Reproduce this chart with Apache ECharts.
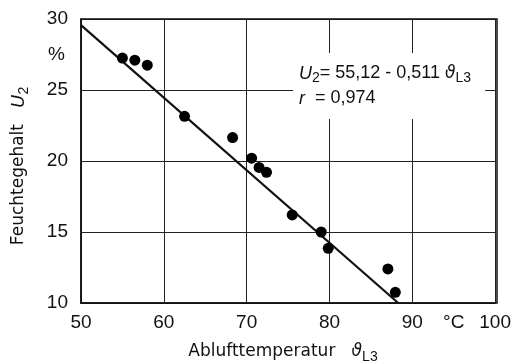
<!DOCTYPE html>
<html>
<head>
<meta charset="utf-8">
<script src="https://cdn.jsdelivr.net/npm/echarts@6/dist/echarts.min.js"></script>
<style>
  html, body { margin: 0; padding: 0; background: #fff; }
  #chart { width: 514px; height: 364px; }
</style>
</head>
<body>
<div id="chart"></div>
<script>
(function () {
    // Messpunkte (Ablufttemperatur in °C, Feuchtegehalt in %)
    var temps = [55.0, 56.5, 58.0, 62.5, 68.3, 70.6, 71.5, 72.4, 75.5, 79.0, 79.85, 87.05, 87.95];
    var moisture = [27.25, 27.1, 26.75, 23.15, 21.65, 20.2, 19.55, 19.2, 16.2, 15.0, 13.85, 12.4, 10.75];
    // Regressionsgerade U2 = 55,12 - 0,511 * t
    var fitA = 55.12;
    var fitB = -0.511;
    var fitRange = [50, 88.3];

    var font = 'Liberation Sans';
    var titleFont = 'DejaVu Sans';

    var pts = temps.map(function (t, i) { return [t, moisture[i]]; });
    var fitLine = fitRange.map(function (t) { return [t, fitA + fitB * t]; });

    var chart = echarts.init(document.getElementById('chart'));
    chart.setOption({
        animation: false,
        backgroundColor: '#fff',
        grid: { left: 81, right: 17, top: 19, bottom: 61 },
        xAxis: [{
            type: 'value', min: 50, max: 100, interval: 10,
            axisLine: { lineStyle: { color: '#111', width: 1.5 } },
            axisTick: { show: false },
            splitLine: { lineStyle: { color: '#222', width: 1 } },
            axisLabel: { color: '#111', fontFamily: font, fontSize: 19, margin: 10 }
        }, {
            // nur für die Einheit °C zwischen 90 und 100
            type: 'value', min: 50, max: 100, interval: 5, position: 'bottom',
            axisLine: { show: false }, axisTick: { show: false }, splitLine: { show: false },
            axisLabel: {
                color: '#111', fontFamily: font, fontSize: 19, margin: 10,
                formatter: function (v) { return v === 95 ? '°C' : ''; }
            }
        }],
        yAxis: [{
            type: 'value', min: 10, max: 30, interval: 5,
            axisLine: { show: true, lineStyle: { color: '#111', width: 1.5 } },
            axisTick: { show: false },
            splitLine: { lineStyle: { color: '#222', width: 1 } },
            axisLabel: { color: '#111', fontFamily: font, fontSize: 19, margin: 13 }
        }, {
            // Einheit % zwischen 30 und 25
            type: 'value', min: 10, max: 30, interval: 2.5, position: 'left',
            axisLine: { show: false }, axisTick: { show: false }, splitLine: { show: false },
            axisLabel: {
                color: '#111', fontFamily: font, fontSize: 19, margin: 16,
                formatter: function (v) { return v === 27.5 ? '%' : ''; }
            }
        }],
        graphic: [{
            // Rahmen oben/rechts
            type: 'rect', shape: { x: 81, y: 19, width: 416, height: 284 },
            style: { fill: 'none', stroke: '#111', lineWidth: 1.5 }, z: 1
        }, {
            type: 'text', left: 293, top: 53, z: 10,
            style: {
                text: '{i|U}{s|2}= 55,12 - 0,511 {g|ϑ}{s|L3}\n{i|r}  = 0,974',
                font: '18px ' + font, fill: '#111', lineHeight: 25,
                backgroundColor: '#fff', padding: [8, 14, 8, 6],
                rich: {
                    i: { fontStyle: 'italic', fontFamily: font, fontSize: 18, fill: '#111' },
                    s: { fontFamily: font, fontSize: 14, padding: [10, 0, 0, 0], fill: '#111' },
                    g: { fontStyle: 'italic', fontFamily: titleFont, fontSize: 17, fill: '#111' }
                }
            }
        }, {
            type: 'text', x: 283, y: 352, z: 10,
            style: {
                text: 'Ablufttemperatur   {g|ϑ}{s|L3}',
                font: '17px ' + titleFont, fill: '#111', align: 'center', verticalAlign: 'middle',
                rich: {
                    g: { fontStyle: 'italic', fontFamily: titleFont, fontSize: 17, fill: '#111' },
                    s: { fontFamily: font, fontSize: 14, padding: [10, 0, 0, 0], fill: '#111' }
                }
            }
        }, {
            type: 'text', x: 19, y: 166, rotation: Math.PI / 2, z: 10,
            style: {
                text: 'Feuchtegehalt   {i|U}{s|2}',
                font: '17px ' + titleFont, fill: '#111', align: 'center', verticalAlign: 'middle',
                rich: {
                    i: { fontStyle: 'italic', fontFamily: titleFont, fontSize: 18, fill: '#111' },
                    s: { fontFamily: font, fontSize: 14, padding: [10, 0, 0, 0], fill: '#111' }
                }
            }
        }],
        series: [{
            type: 'line', data: fitLine, symbol: 'none', silent: true,
            lineStyle: { color: '#111', width: 2.2 }, z: 3
        }, {
            type: 'scatter', data: pts, symbol: 'circle', symbolSize: 11,
            itemStyle: { color: '#000', opacity: 1 }, z: 4
        }]
    });
})();
</script>
</body>
</html>
